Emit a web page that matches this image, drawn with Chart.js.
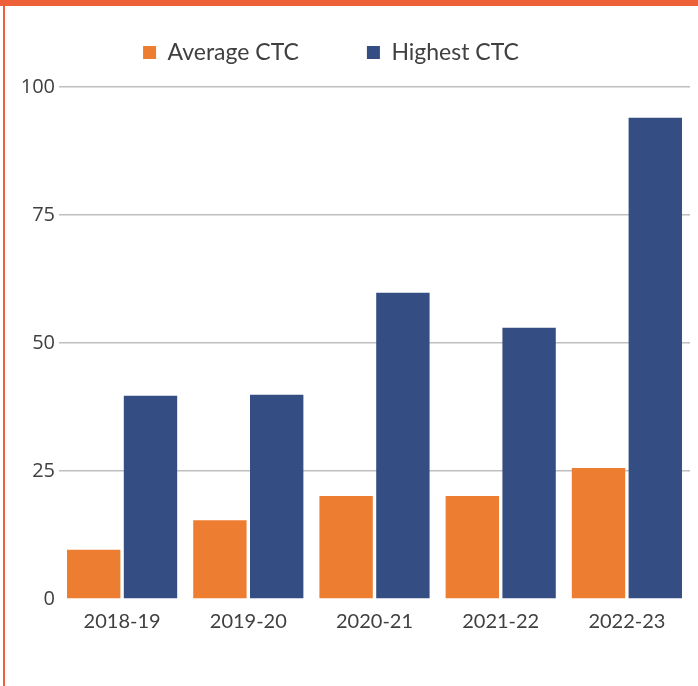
<!DOCTYPE html>
<html>
<head>
<meta charset="utf-8">
<script src="https://cdn.jsdelivr.net/npm/chart.js@4.4.0/dist/chart.umd.min.js"></script>
<style>
  html, body { margin: 0; padding: 0; background: #fff; }
  #wrap { position: relative; width: 698px; height: 686px; }
  #topBar { position: absolute; left: 0; top: 0; width: 698px; height: 6px; background: #ee6037; }
  #leftBar { position: absolute; left: 3px; top: 0; width: 2px; height: 686px; background: #ee6037; }
</style>
</head>
<body>
<div id="wrap">
  <canvas id="ctcChart" width="698" height="686"></canvas>
  <div id="topBar"></div>
  <div id="leftBar"></div>
</div>
<script>
// data
const years = ['2018-19', '2019-20', '2020-21', '2021-22', '2022-23'];
const averageCtc = [9.6, 15.4, 20.1, 20.1, 25.6];
const highestCtc = [39.7, 39.9, 59.8, 53.0, 94.0];
const yTicks = [0, 25, 50, 75, 100];

const textColor = '#404040';

// nudge the legend left and up so it sits where the original one does
const legendShift = {
    id: 'legendShift',
    afterLayout(chart) {
        chart.legend.left -= 14;
        chart.legend.right -= 14;
        chart.legend.top -= 13;
        chart.legend.bottom -= 13;
    }
};

const ctx = document.getElementById('ctcChart').getContext('2d');
const chart = new Chart(ctx, {
    type: 'bar',
    data: {
        labels: years,
        datasets: [{
            label: 'Average CTC',
            data: averageCtc,
            backgroundColor: '#ed7d31',
            categoryPercentage: 0.9,
            barPercentage: 0.94
        }, {
            label: 'Highest CTC',
            data: highestCtc,
            backgroundColor: '#344e84',
            categoryPercentage: 0.9,
            barPercentage: 0.94
        }]
    },
    options: {
        responsive: false,
        animation: false,
        layout: {
            padding: { left: 0, right: 8, top: -14, bottom: 49 }
        },
        plugins: {
            legend: {
                position: 'top',
                labels: {
                    boxWidth: 13,
                    boxHeight: 13,
                    padding: 68,
                    color: textColor,
                    font: { family: 'Lato', size: 23 }
                }
            },
            tooltip: { enabled: false }
        },
        scales: {
            x: {
                grid: { display: false },
                border: { display: false },
                ticks: {
                    color: textColor,
                    padding: 3,
                    font: { family: 'Lato', size: 20 }
                }
            },
            y: {
                min: 0,
                max: 100,
                afterBuildTicks(scale) {
                    scale.ticks = yTicks.map(v => ({ value: v }));
                },
                afterFit(scale) {
                    scale.width = 59;
                },
                border: { display: false },
                grid: {
                    color: c => c.tick && c.tick.value === 0 ? 'rgba(0,0,0,0)' : '#bfbfbf',
                    lineWidth: 1.5,
                    drawTicks: false
                },
                ticks: {
                    color: textColor,
                    padding: 4,
                    font: { family: 'Open Sans', size: 20 }
                }
            }
        }
    },
    plugins: [legendShift]
});
</script>
</body>
</html>
